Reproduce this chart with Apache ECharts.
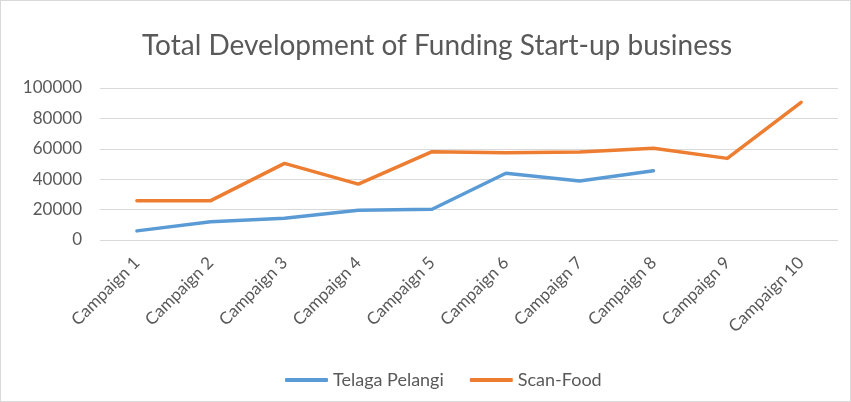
<!DOCTYPE html>
<html>
<head>
<meta charset="utf-8">
<script src="https://cdn.jsdelivr.net/npm/echarts@6/dist/echarts.min.js"></script>
<style>
    html, body { margin: 0; padding: 0; background: #fff; }
    #chart { width: 849px; height: 400px; border: 1px solid #d9d9d9; }
</style>
</head>
<body>
<div id="chart"></div>
<script>
var categories = ["Campaign 1", "Campaign 2", "Campaign 3", "Campaign 4", "Campaign 5",
    "Campaign 6", "Campaign 7", "Campaign 8", "Campaign 9", "Campaign 10"];
var telagaPelangi = [6000, 12000, 14300, 19500, 20200, 43900, 38800, 45600, null, null];
var scanFood = [25900, 25900, 50400, 36800, 58100, 57400, 57900, 60300, 53700, 90600];
var legendNames = ["Telaga Pelangi", "Scan-Food"];

var myChart = echarts.init(document.getElementById("chart"));
var option = {
    animation: false,
    title: {
        text: "Total Development of Funding Start-up business",
        left: 136,
        top: 26,
        textStyle: {
            fontFamily: "Lato",
            fontSize: 28,
            fontWeight: "normal",
            color: "#595959"
        }
    },
    grid: {
        left: 99,
        right: 12,
        top: 87,
        bottom: 161
    },
    legend: {
        top: 365,
        left: 279,
        itemWidth: 43,
        itemHeight: 4,
        itemGap: 26,
        icon: "roundRect",
        textStyle: {
            fontFamily: "Lato",
            fontSize: 18,
            color: "#595959"
        },
        data: legendNames
    },
    color: ["#5b9bd5", "#ed7d31"],
    xAxis: {
        type: "category",
        boundaryGap: true,
        data: categories,
        axisLine: { show: false },
        axisTick: { show: false },
        axisLabel: {
            rotate: 45,
            interval: 0,
            margin: 20,
            fontFamily: "Lato",
            fontSize: 17,
            color: "#595959"
        }
    },
    yAxis: {
        type: "value",
        min: 0,
        max: 100000,
        interval: 20000,
        axisLine: { show: false },
        axisTick: { show: false },
        axisLabel: {
            margin: 18,
            fontFamily: "Lato",
            fontSize: 17,
            color: "#595959",
            formatter: function (v) {
                return String(v);
            }
        },
        splitLine: {
            lineStyle: { color: "#d9d9d9", width: 1 }
        }
    },
    series: [
        {
            name: legendNames[0],
            type: "line",
            symbol: "none",
            lineStyle: { width: 3.5, cap: "round", join: "round" },
            data: telagaPelangi
        },
        {
            name: legendNames[1],
            type: "line",
            symbol: "none",
            lineStyle: { width: 3.5, cap: "round", join: "round" },
            data: scanFood
        }
    ]
};
myChart.setOption(option, true);
</script>
</body>
</html>
